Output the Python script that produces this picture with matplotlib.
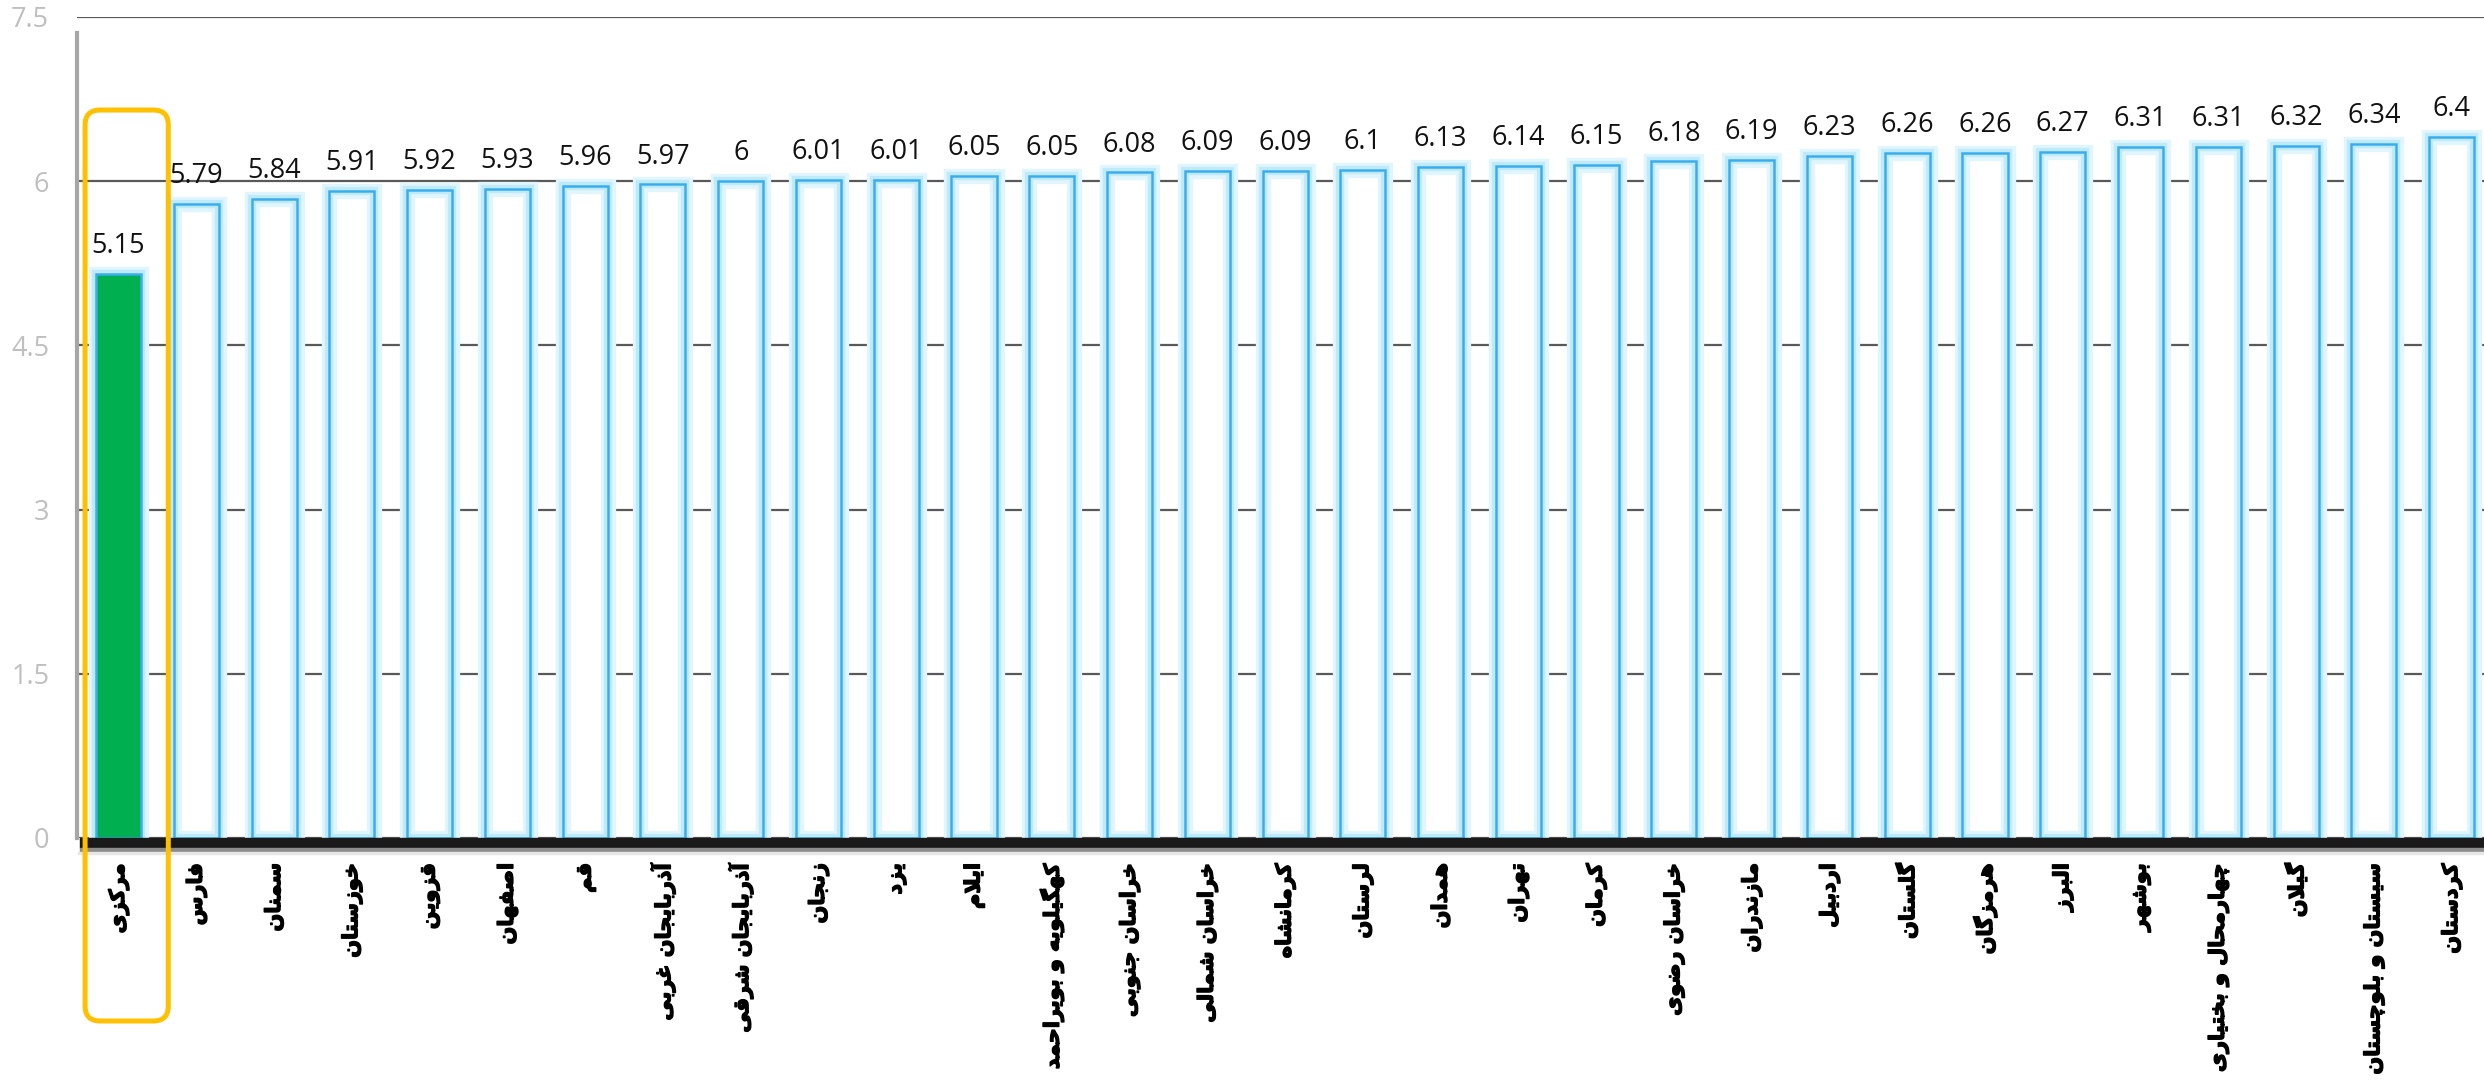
import matplotlib
matplotlib.use("Agg")
import matplotlib.pyplot as plt
from matplotlib.patches import FancyBboxPatch, Rectangle
import matplotlib.transforms as mtrans
import matplotlib.patheffects as pe
import numpy as np

provinces = ["مرکزی", "فارس", "سمنان", "خوزستان", "قزوین", "اصفهان", "قم",
             "آذربایجان غربی", "آذربایجان شرقی", "زنجان", "یزد", "ایلام",
             "کهگیلویه و بویراحمد", "خراسان جنوبی", "خراسان شمالی", "کرمانشاه",
             "لرستان", "همدان", "تهران", "کرمان", "خراسان رضوی", "مازندران",
             "اردبیل", "گلستان", "هرمزگان", "البرز", "بوشهر",
             "چهارمحال و بختیاری", "گیلان", "سیستان و بلوچستان", "کردستان"]
scores = [5.15, 5.79, 5.84, 5.91, 5.92, 5.93, 5.96, 5.97, 6, 6.01, 6.01, 6.05,
          6.05, 6.08, 6.09, 6.09, 6.1, 6.13, 6.14, 6.15, 6.18, 6.19, 6.23, 6.26,
          6.26, 6.27, 6.31, 6.31, 6.32, 6.34, 6.4]
highlight = 0
yticks = [0, 1.5, 3, 4.5, 6, 7.5]

# matplotlib has no arabic shaping, so pick presentation forms by hand
# (isolated, final, initial, medial)
FORMS = {
    'ا': (0xFE8D, 0xFE8E), 'آ': (0xFE81, 0xFE82),
    'ب': (0xFE8F, 0xFE90, 0xFE91, 0xFE92), 'ت': (0xFE95, 0xFE96, 0xFE97, 0xFE98),
    'ج': (0xFE9D, 0xFE9E, 0xFE9F, 0xFEA0), 'ح': (0xFEA1, 0xFEA2, 0xFEA3, 0xFEA4),
    'خ': (0xFEA5, 0xFEA6, 0xFEA7, 0xFEA8), 'د': (0xFEA9, 0xFEAA),
    'ذ': (0xFEAB, 0xFEAC), 'ر': (0xFEAD, 0xFEAE), 'ز': (0xFEAF, 0xFEB0),
    'س': (0xFEB1, 0xFEB2, 0xFEB3, 0xFEB4), 'ش': (0xFEB5, 0xFEB6, 0xFEB7, 0xFEB8),
    'ص': (0xFEB9, 0xFEBA, 0xFEBB, 0xFEBC), 'ض': (0xFEBD, 0xFEBE, 0xFEBF, 0xFEC0),
    'غ': (0xFECD, 0xFECE, 0xFECF, 0xFED0), 'ف': (0xFED1, 0xFED2, 0xFED3, 0xFED4),
    'ق': (0xFED5, 0xFED6, 0xFED7, 0xFED8), 'ل': (0xFEDD, 0xFEDE, 0xFEDF, 0xFEE0),
    'م': (0xFEE1, 0xFEE2, 0xFEE3, 0xFEE4), 'ن': (0xFEE5, 0xFEE6, 0xFEE7, 0xFEE8),
    'ه': (0xFEE9, 0xFEEA, 0xFEEB, 0xFEEC), 'و': (0xFEED, 0xFEEE),
    'ی': (0xFBFC, 0xFBFD, 0xFBFE, 0xFBFF), 'ک': (0xFB8E, 0xFB8F, 0xFB90, 0xFB91),
    'گ': (0xFB92, 0xFB93, 0xFB94, 0xFB95), 'چ': (0xFB7A, 0xFB7B, 0xFB7C, 0xFB7D),
}
LAMALEF = {'ا': (0xFEFB, 0xFEFC), 'آ': (0xFEF5, 0xFEF6)}


def shape(text):
    out = []
    i = 0
    n = len(text)
    while i < n:
        c = text[i]
        if c not in FORMS:
            out.append(c)
            i += 1
            continue
        prev = text[i-1] if i > 0 else None
        joins_prev = prev in FORMS and len(FORMS[prev]) == 4
        if c == 'ل' and i+1 < n and text[i+1] in LAMALEF:
            lig = LAMALEF[text[i+1]]
            out.append(chr(lig[1] if joins_prev else lig[0]))
            i += 2
            continue
        nxt = text[i+1] if i+1 < n else None
        f = FORMS[c]
        joins_next = len(f) == 4 and nxt in FORMS
        if joins_prev and joins_next:
            g = f[3]
        elif joins_prev:
            g = f[1]
        elif joins_next:
            g = f[2]
        else:
            g = f[0]
        out.append(chr(g))
        i += 1
    return ''.join(reversed(out))


fig = plt.figure(figsize=(24.84, 10.88), dpi=100)
ax = fig.add_axes([0.031, 0.2298, 0.969, 0.7546])

x = np.arange(len(scores))
w = 0.58

ax.bar(x, scores, w, color='white', edgecolor='none', zorder=2)
ax.bar(x, scores, w, fill=False, edgecolor='#e0f5fe', lw=11, zorder=3)
ax.bar(x, scores, w, fill=False, edgecolor='#bfeafc', lw=6, zorder=3)
# highlighted province drawn solid on top of the glow
ax.bar(x[highlight], scores[highlight], w, color='#00b050', edgecolor='none',
       zorder=3.5)
ax.bar(x, scores, w, fill=False, edgecolor='#3aaeec', lw=1.8, zorder=4)

for xi, v in zip(x, scores):
    ax.annotate(f"{v:g}", (xi, v), xytext=(0, 10), textcoords='offset points',
                ha='center', va='bottom', fontsize=19.5, color='#111111',
                family='Open Sans')

ax.set_xlim(-0.534, 30.416)
ax.set_ylim(0, 7.5)
ax.set_yticks(yticks)
ax.set_yticklabels([f"{t:g}" for t in yticks], color='#bfbfbf', fontsize=19.5,
                   family='Open Sans')
ax.set_xticks(x)
ax.set_xticklabels([shape(p) for p in provinces], rotation=90, fontsize=15,
                   fontweight='bold', family='DejaVu Sans')
shift = mtrans.ScaledTranslation(8 / 100, 0, fig.dpi_scale_trans)
for lab in ax.get_xticklabels():
    lab.set_transform(lab.get_transform() + shift)
    lab.set_path_effects([pe.withStroke(linewidth=1.0, foreground='black')])
ax.tick_params(axis='y', length=0, pad=20)
ax.tick_params(axis='x', length=0, pad=18)

ax.yaxis.grid(True, color='#595959', lw=1.6, zorder=1)
ax.set_axisbelow(True)
for s in ['top', 'right', 'bottom']:
    ax.spines[s].set_visible(False)
ax.spines['left'].set_color('#a6a6a6')
ax.spines['left'].set_linewidth(3)
ax.spines['left'].set_bounds(0, 7.35)

# floor band under the bars
ax.add_patch(Rectangle((-0.49, -0.095), 31, 0.095, color='#1a1a1a',
                       clip_on=False, zorder=5))
ax.add_patch(Rectangle((-0.49, -0.125), 31, 0.03, color='#8c8c8c',
                       clip_on=False, zorder=5))
ax.add_patch(Rectangle((-0.52, -0.15), 31, 0.025, color='#e6e6e6',
                       clip_on=False, zorder=5))

# orange highlight box around the first province
fig.canvas.draw()
x0, y0 = ax.transData.transform((highlight - 0.43, scores[highlight] + 1.5))
x1, _ = ax.transData.transform((highlight + 0.64, 0))
bot = 1088 - 1021
box = FancyBboxPatch((x0 / 100, bot / 100), (x1 - x0) / 100, (y0 - bot) / 100,
                     boxstyle='round,pad=0,rounding_size=0.15',
                     transform=fig.dpi_scale_trans, fill=False,
                     edgecolor='#ffc000', lw=3.6, zorder=10, clip_on=False)
fig.patches.append(box)

fig.savefig('out.png', dpi=100)
